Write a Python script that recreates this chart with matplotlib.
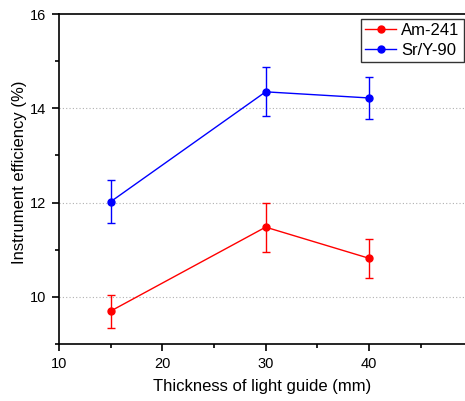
import matplotlib
matplotlib.use("Agg")
import matplotlib.pyplot as plt
from matplotlib.ticker import MultipleLocator
from matplotlib.lines import Line2D

plt.rcParams['font.family'] = ['Liberation Sans', 'DejaVu Sans']

thickness = [15, 30, 40]
am241 = [9.70, 11.48, 10.82]
am241_err = [0.35, 0.52, 0.41]
sry90 = [12.02, 14.35, 14.22]
sry90_err = [0.46, 0.52, 0.45]

fig = plt.figure(figsize=(4.65, 4.01), dpi=100)
ax = fig.add_axes([0.127, 0.142, 0.873, 0.823])

ax.errorbar(thickness, am241, yerr=am241_err, color='#ff0000', marker='o', ms=5,
            lw=1, elinewidth=1, capsize=3, capthick=1, zorder=3)
ax.errorbar(thickness, sry90, yerr=sry90_err, color='#0000ff', marker='o', ms=5,
            lw=1, elinewidth=1, capsize=3, capthick=1, zorder=3)

ax.set_xlim(10, 49.3)
ax.set_ylim(9, 16)
ax.xaxis.set_major_locator(MultipleLocator(10))
ax.xaxis.set_minor_locator(MultipleLocator(5))
ax.yaxis.set_major_locator(MultipleLocator(2))
ax.yaxis.set_minor_locator(MultipleLocator(1))
ax.set_xticks([10, 20, 30, 40])

for yv in [10, 12, 14]:
    ax.axhline(yv, color='#b0b0b0', lw=0.8, ls=(0, (1, 2)), zorder=1)

ax.spines['right'].set_visible(False)
for s in ['left', 'bottom', 'top']:
    ax.spines[s].set_linewidth(1.2)
ax.tick_params(which='major', direction='out', length=5, width=1.2, labelsize=10.5,
               top=False, right=False, pad=4)
ax.tick_params(which='minor', direction='out', length=3, width=1.2, top=False, right=False)

ax.set_xlabel('Thickness of light guide (mm)', fontsize=12, labelpad=6)
ax.set_ylabel('Instrument efficiency (%)', fontsize=12)
ax.yaxis.set_label_coords(-0.079, 0.52)

handles = [Line2D([], [], color='#ff0000', marker='o', ms=5, lw=1),
           Line2D([], [], color='#0000ff', marker='o', ms=5, lw=1)]
leg = ax.legend(handles, ['Am-241', 'Sr/Y-90'], loc='upper right', fontsize=12,
                frameon=True, fancybox=False, edgecolor='black', borderpad=0.25,
                handlelength=1.9, handletextpad=0.3, labelspacing=0.3,
                bbox_to_anchor=(464 / 465, 1 - 19 / 401), bbox_transform=fig.transFigure,
                borderaxespad=0)
leg.get_frame().set_linewidth(1.0)

fig.savefig('out.png', dpi=100)
